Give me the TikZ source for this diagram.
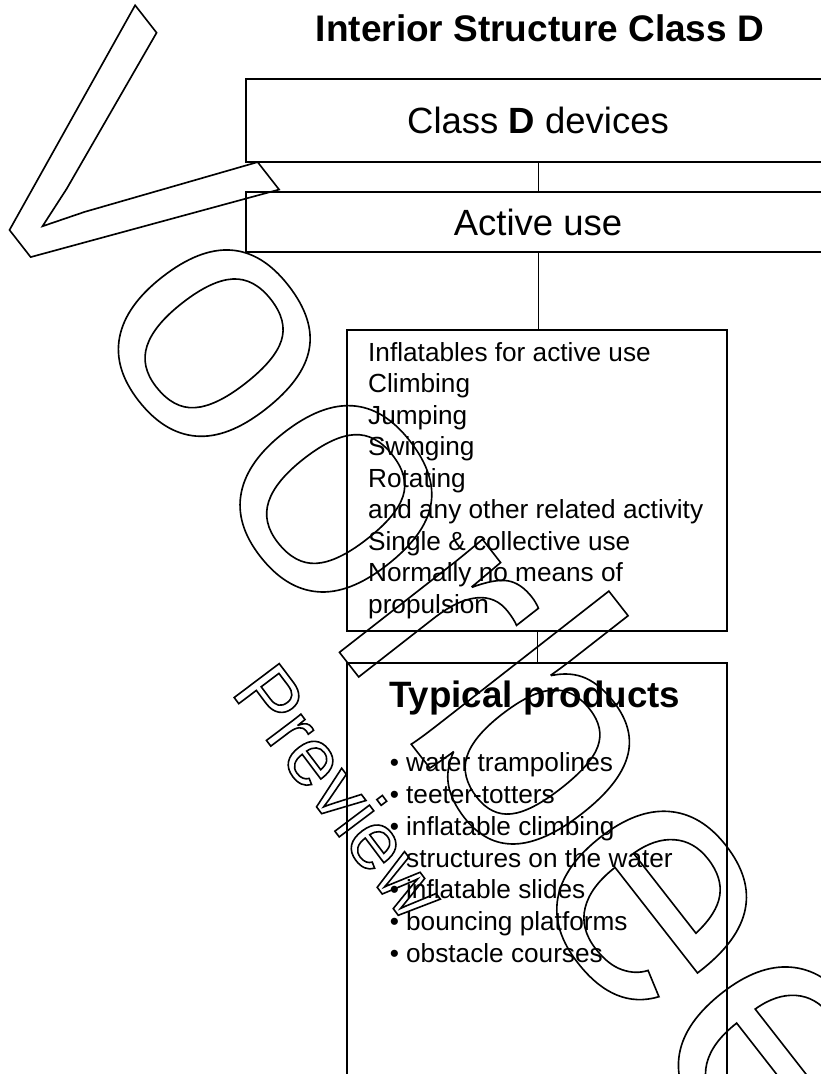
\documentclass[tikz,border=0pt]{standalone}
\usepackage{fontspec}
\setmainfont{Liberation Sans}
\newcommand\outlinedtext[1]{\special{pdf:literal direct 1 Tr 1.6 w}#1\special{pdf:literal direct 0 Tr}}
\tikzset{
  box/.style={draw, line width=1.6pt, rectangle, inner sep=0pt},
  conn/.style={line width=0.9pt},
  big/.style={font=\fontsize{36.5}{44}\selectfont},
  smalltext/.style={font=\fontsize{26.2}{31.5}\selectfont, inner sep=0pt, anchor=base west},
  wm/.style={inner sep=0pt, anchor=base west},
}
\begin{document}
\begin{tikzpicture}[x=1pt,y=-1pt]
\useasboundingbox (0,0) rectangle (821,1074);
\clip (0,0) rectangle (821,1074);
% title
\node[font=\bfseries\fontsize{37}{44}\selectfont, inner sep=0pt, anchor=base] (title) at (540,41) {Interior Structure Class D};
% boxes
\node[box, big, minimum width=584pt, minimum height=83pt] (devices) at (538,120.5) {Class \textbf{D} devices};
\node[box, big, minimum width=584pt, minimum height=60pt] (active) at (538,222) {Active use};
\node[box, minimum width=380pt, minimum height=301pt] (features) at (537,480.5) {};
\node[box, minimum width=380pt, minimum height=440pt, anchor=north] (products) at (537,662) {};
% connectors
\draw[conn] (devices.south) -- (active.north);
\draw[conn] (active.south) -- (active.south |- features.north);
\draw[conn] (features.south) -- (products.north);
% feature text
\foreach [count=\i] \t in {Inflatables for active use, Climbing, Jumping, Swinging, Rotating, and any other related activity, Single \& collective use, Normally no means of, propulsion}
  \node[smalltext] (f\i) at (368,{361+31.5*(\i-1)}) {\t};
% products
\node[font=\bfseries\fontsize{36.7}{44}\selectfont, inner sep=0pt, anchor=base west] (tp) at (389,707) {Typical products};
\node[smalltext] (p1) at (406,771) {\llap{\textbullet\space}water trampolines};
\node[smalltext] (p2) at (406,803) {\llap{\textbullet\space}teeter-totters};
\node[smalltext] (p3) at (406,835) {\llap{\textbullet\space}inflatable climbing};
\node[smalltext] (p4) at (406,867) {structures on the water};
\node[smalltext] (p5) at (406,898) {\llap{\textbullet\space}inflatable slides};
\node[smalltext] (p6) at (406,930) {\llap{\textbullet\space}bouncing platforms};
\node[smalltext] (p7) at (406,962) {\llap{\textbullet\space}obstacle courses};
% watermark
\node[wm, rotate=-52, xscale=1.03, font=\fontsize{345}{400}\selectfont] (wm1) at (-53,150) {\outlinedtext{Voorbeeld}};
\node[wm, rotate=-53, font=\fontsize{82}{96}\selectfont] (wm2) at (230,692) {\outlinedtext{Preview}};
\end{tikzpicture}
\end{document}
